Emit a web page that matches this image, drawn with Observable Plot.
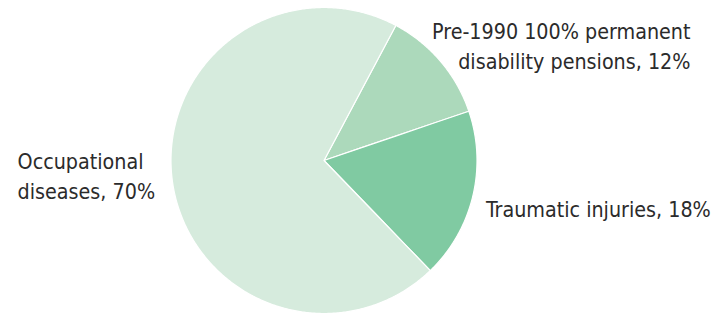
<!DOCTYPE html>
<html><head><meta charset="utf-8">
<script src="https://cdn.jsdelivr.net/npm/d3@7"></script>
<script src="https://cdn.jsdelivr.net/npm/@observablehq/plot@0.6"></script>
<style>
html,body{margin:0;padding:0;background:#fff;}
</style></head>
<body><div id="chart"></div>
<script>
// ---- data ----
const categories = ["Pre-1990 100% permanent disability pensions", "Traumatic injuries", "Occupational diseases"];
const shares = [12, 18, 70];
const labels = ["Pre-1990 100% permanent\ndisability pensions, 12%", "Traumatic injuries, 18%", "Occupational\ndiseases, 70%"];
const colors = ["#acd9bb", "#80caa2", "#d6ebdd"];
const startAngle = 28; // degrees clockwise from 12 o'clock

// ---- build slices (as geo polygons around the north pole) ----
const total = d3.sum(shares);
let acc = startAngle;
const slices = categories.map((c, i) => {
  const a0 = acc, a1 = acc + shares[i] / total * 360;
  acc = a1;
  return {category: c, label: labels[i], a0, a1, mid: (a0 + a1) / 2};
});
const toLon = a => 180 - a;
const features = slices.map(s => {
  const ring = [[0, 90]];
  const n = Math.ceil(s.a1 - s.a0) * 2;
  for (let k = 0; k <= n; k++) ring.push([toLon(s.a0 + (s.a1 - s.a0) * k / n), 0]);
  ring.push([0, 90]);
  return {type: "Feature", properties: s, geometry: {type: "Polygon", coordinates: [ring]}};
});

// label layout (styling only)
const layout = {
  "Occupational diseases": {textAnchor: "start", dx: -146.5, dy: -8.5},
  "Pre-1990 100% permanent disability pensions": {textAnchor: "end", dx: 243.5, dy: -11.5},
  "Traumatic injuries": {textAnchor: "start", dx: 5, dy: 8.5}
};

const fontSize = 21.3;
const font = {fontFamily: "'DejaVu Sans Condensed', 'DejaVu Sans', sans-serif", fontStretch: "condensed", fontSize, fill: "#2b2b2b"};

const textMarks = slices.map(s => Plot.text([s], {
  x: d => toLon(d.mid), y: -5, text: "label",
  lineHeight: 30 / fontSize,
  ...font,
  ...layout[s.category]
}));

const chart = Plot.plot({
  width: 719,
  height: 313,
  marginLeft: 170.5,
  marginRight: 242.5,
  marginTop: 7,
  marginBottom: 0,
  projection: {
    type: "azimuthal-equidistant",
    rotate: [0, -90],
    clip: false,
    domain: d3.geoCircle().center([0, 90]).radius(90).precision(0.5)()
  },
  color: {domain: categories, range: colors},
  marks: [
    Plot.geo(features, {fill: d => d.properties.category, stroke: "white", strokeWidth: 1.2}),
    ...textMarks
  ]
});
document.getElementById("chart").append(chart);
</script>
</body></html>
